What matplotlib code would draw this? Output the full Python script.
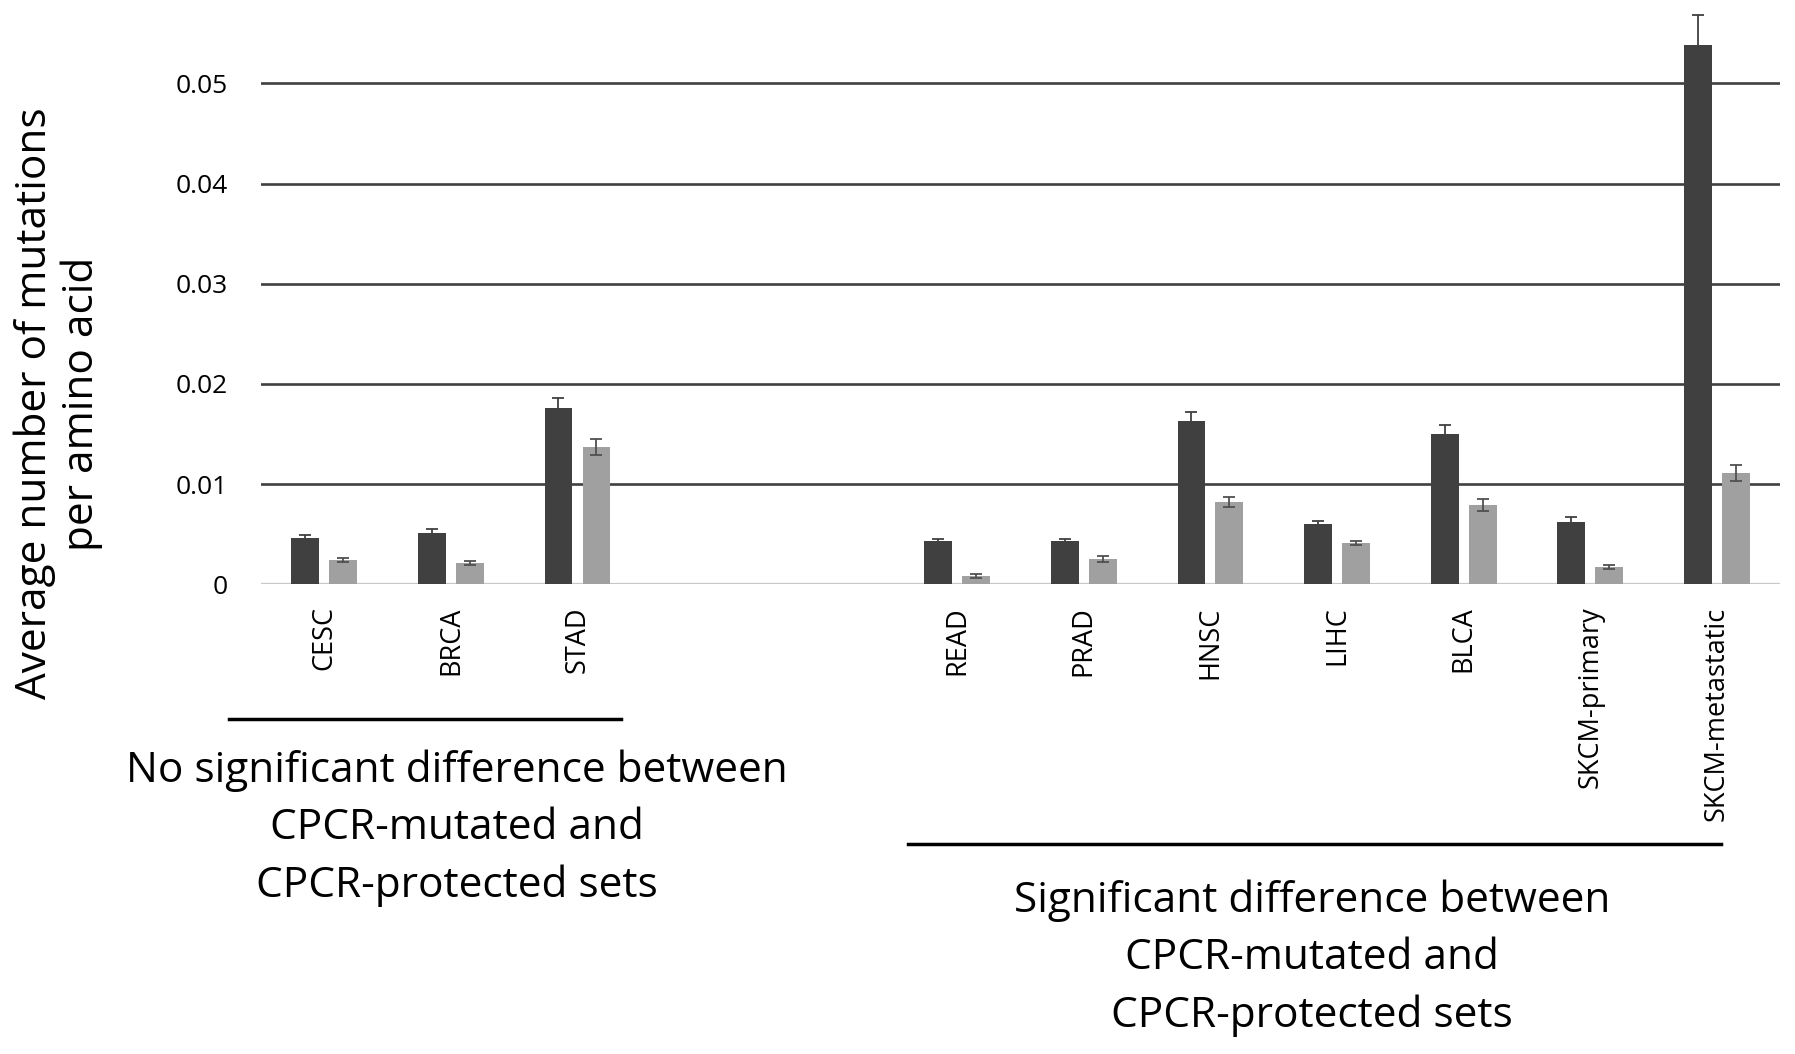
import numpy as np
import matplotlib.pyplot as plt
import matplotlib.transforms as mtransforms

plt.rcParams['font.family'] = ['Open Sans', 'DejaVu Sans']

# slot positions (two empty slots between the groups)
categories = ['CESC', 'BRCA', 'STAD', 'READ', 'PRAD', 'HNSC', 'LIHC', 'BLCA',
              'SKCM-primary', 'SKCM-metastatic']
positions = [0, 1, 2, 5, 6, 7, 8, 9, 10, 11]

mutated = [0.0046, 0.0051, 0.0176, 0.0043, 0.0043, 0.0163, 0.0060, 0.0150, 0.0062, 0.0538]
mutated_err = [0.0003, 0.0004, 0.0010, 0.0002, 0.0002, 0.0009, 0.0003, 0.0009, 0.0005, 0.0030]
protected = [0.0024, 0.0021, 0.0137, 0.0008, 0.0025, 0.0082, 0.0041, 0.0079, 0.0017, 0.0111]
protected_err = [0.0002, 0.0002, 0.0008, 0.0002, 0.0003, 0.0005, 0.0002, 0.0006, 0.0002, 0.0008]

yticks = [0, 0.01, 0.02, 0.03, 0.04, 0.05]
ytick_labels = ['0', '0.01', '0.02', '0.03', '0.04', '0.05']

group_labels = ['No significant difference between\nCPCR-mutated and\nCPCR-protected sets',
                'Significant difference between\nCPCR-mutated and\nCPCR-protected sets']

fig = plt.figure(figsize=(17.95, 10.54), dpi=100)
ax = fig.add_axes([0.1454, 0.4457, 0.8463, 0.554])

x = np.array(positions, dtype=float)
w = 0.22
off = 0.15

for y in yticks[1:]:
    ax.axhline(y, color='#404040', lw=1.9, zorder=1)
ax.axhline(0, color='#c8c8c8', lw=1.6, zorder=1)

ax.bar(x - off, mutated, w, color='#404040', zorder=2,
       yerr=mutated_err, error_kw=dict(ecolor='#404040', elinewidth=1.3, capsize=4, capthick=1.3))
ax.bar(x + off, protected, w, color='#a0a0a0', zorder=2,
       yerr=protected_err, error_kw=dict(ecolor='#505050', elinewidth=1.3, capsize=4, capthick=1.3))

ax.set_xlim(-0.5, 11.5)
ax.set_ylim(0, 0.0583)
ax.set_yticks(yticks)
ax.set_yticklabels(ytick_labels, fontsize=19)
ax.set_xticks(positions)
ax.set_xticklabels(categories, rotation=90, fontsize=19.5, va='top')
ax.tick_params(axis='y', length=0, pad=24)
ax.tick_params(axis='x', length=0, pad=16)
for s in ax.spines.values():
    s.set_visible(False)

fig.text(0.0325, 0.617, 'Average number of mutations\nper amino acid', rotation=90,
         ha='center', va='center', fontsize=30.5, multialignment='center', linespacing=1.12)

# group brackets
trans = mtransforms.blended_transform_factory(ax.transData, ax.transAxes)
ax.plot([-0.75, 2.34], [-0.231, -0.231], color='black', lw=2.5, transform=trans, clip_on=False)
ax.plot([4.61, 11.03], [-0.445, -0.445], color='black', lw=2.5, transform=trans, clip_on=False)
ax.text(1.05, -0.418, group_labels[0], transform=trans, ha='center', va='center',
        fontsize=30.5, linespacing=1.47)
ax.text(7.8, -0.641, group_labels[1], transform=trans, ha='center', va='center',
        fontsize=30.5, linespacing=1.47)

fig.savefig('out.png', dpi=100)
